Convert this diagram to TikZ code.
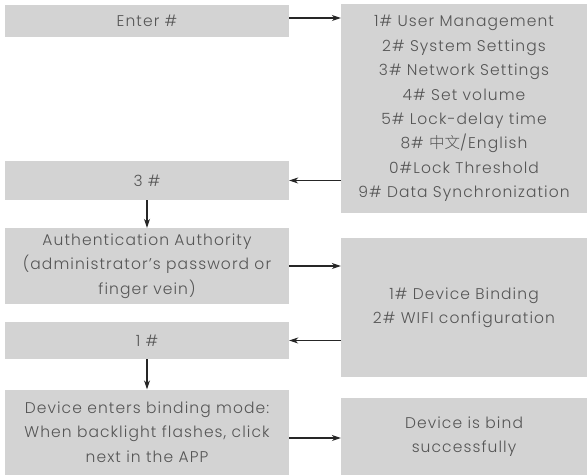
\documentclass[tikz,border=0pt]{standalone}
\usepackage{fontspec}
\setmainfont{Poppins}[UprightFont=* Light,LetterSpace=7]
\newfontfamily\cjk{Noto Sans CJK SC}[UprightFont=* Light]
\usetikzlibrary{arrows.meta}
\definecolor{boxgray}{HTML}{D3D3D3}
\definecolor{textgray}{HTML}{555555}

\begin{document}
\begin{tikzpicture}[x=1pt,y=-1pt,
		box/.style={fill=boxgray,text=textgray,align=center,inner sep=0pt,
			font=\fontsize{15.5}{24.5}\selectfont},
		leftbox/.style={box,minimum width=284pt},
		rightbox/.style={box,minimum width=246pt},
		arr/.style={-{Stealth[length=9pt,width=6pt]},line width=1.1pt,black!85}]
		% Rahmen
		\useasboundingbox (0,0) rectangle (587,475);

		% Linke Spalte
		\node[leftbox,minimum height=32pt] (enter) at (147,20.5) {Enter \#};
		\node[leftbox,minimum height=39pt] (three) at (147,180.5) {3 \#};
		\node[leftbox,minimum height=76pt] (auth) at (147,266) {Authentication Authority\\(administrator’s password or\\finger vein)};
		\node[leftbox,minimum height=37pt] (one) at (147,340.5) {1 \#};
		\node[leftbox,minimum height=85pt] (device) at (147,432) {Device enters binding mode:\\When backlight flashes, click\\next in the APP};

		% Rechte Spalte
		\node[rightbox,minimum height=209pt] (menu) at (464,108.5) {1\# User Management\\2\# System Settings\\3\# Network Settings\\4\# Set volume\\5\# Lock-delay time\\8\# {\cjk 中文}/English\\0\#Lock Threshold\\9\# Data Synchronization};
		\node[rightbox,minimum height=139pt] (config) at (464,307.5) {1\# Device Binding\\2\# WIFI configuration};
		\node[rightbox,minimum height=77pt] (bind) at (464,436.5) {Device is bind\\successfully};

		% Pfeile
		\draw[arr] (enter.east |- 0,18) -- (menu.west |- 0,18);
		\draw[arr] (menu.west |- three.east) -- (three.east);
		\draw[arr] (three.south) -- (auth.north);
		\draw[arr] (auth.east) -- (config.west |- auth.east);
		\draw[arr] (config.west |- one.east) -- (one.east);
		\draw[arr] (one.south) -- (device.north);
		\draw[arr] (device.east |- 0,438) -- (bind.west |- 0,438);
	\end{tikzpicture}
\end{document}
